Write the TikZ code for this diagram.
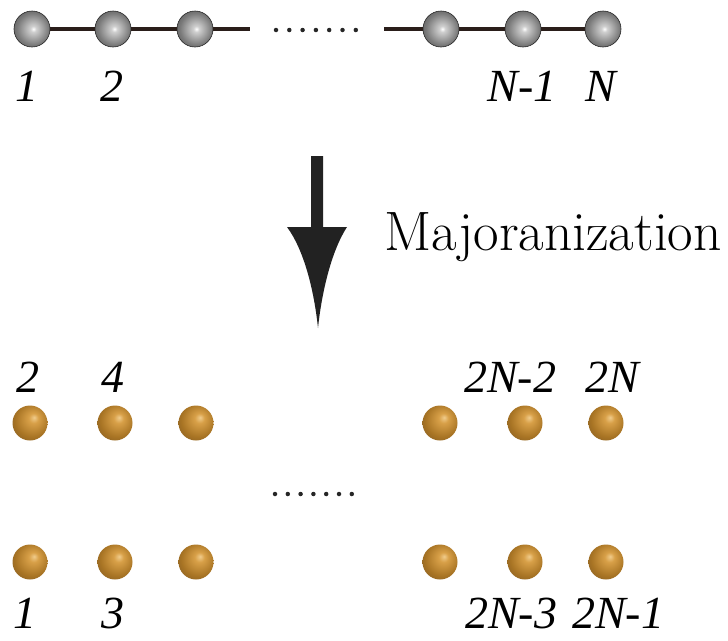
\documentclass[tikz,border=0pt]{standalone}
\usepackage{fontspec}
\newfontfamily\tms{Liberation Serif}
\definecolor{linec}{HTML}{2A1E1A}
\definecolor{arrowc}{HTML}{222222}
\definecolor{gda}{HTML}{F0CC8C}
\definecolor{gdb}{HTML}{D8A048}
\definecolor{gdc}{HTML}{A87424}
\definecolor{gdd}{HTML}{684A22}
\definecolor{gde}{HTML}{5E4420}
\definecolor{gra}{HTML}{FFFFFF}
\definecolor{grb}{HTML}{D0D0D0}
\definecolor{grc}{HTML}{7A7A7A}
\definecolor{grd}{HTML}{3A3A3A}
\definecolor{gre}{HTML}{262626}
\pgfdeclareradialshading{grayball}{\pgfpoint{2bp}{0bp}}{%
  color(0bp)=(gra); color(4bp)=(grb); color(22bp)=(grc); color(42bp)=(grd); color(50bp)=(gre)}
\pgfdeclareradialshading{goldball}{\pgfpoint{6bp}{8bp}}{%
  color(0bp)=(gda); color(7bp)=(gdb); color(24bp)=(gdc); color(46bp)=(gdd); color(50bp)=(gde)}
\begin{document}
\begin{tikzpicture}[x=1pt,y=-1pt,
  gball/.style={circle,minimum size=36pt,inner sep=0pt,shading=grayball,draw=black!85,line width=0.6pt},
  aball/.style={circle,minimum size=35pt,inner sep=0pt,shading=goldball},
  lbl/.style={font=\tms\itshape\fontsize{46}{50}\selectfont,inner sep=0pt},
  bond/.style={draw=linec,line width=3.5pt},
  dotrow/.style={fill=black!85,circle,inner sep=0pt,minimum size=4.5pt}]
\useasboundingbox (0,0) rectangle (728,640);
% top chain
\node[gball] (g1) at (32,29) {};
\node[gball] (g2) at (113,29) {};
\node[gball] (g3) at (195,29) {};
\node[gball] (g4) at (441,29) {};
\node[gball] (g5) at (523,29) {};
\node[gball] (g6) at (603,29) {};
\coordinate (e1) at (250,29);
\coordinate (e2) at (384,29);
\draw[bond] (g1) -- (g2);
\draw[bond] (g2) -- (g3);
\draw[bond] (g3) -- (e1);
\draw[bond] (e2) -- (g4);
\draw[bond] (g4) -- (g5);
\draw[bond] (g5) -- (g6);
\foreach \i in {0,...,6} \node[dotrow] (td\i) at (276+13.3*\i,30) {};
\node[lbl] (t1) at (27,86) {1};
\node[lbl] (t2) at (112,86) {2};
\node[lbl] (t3) at (522,86) {N-1};
\node[lbl] (t4) at (601,86) {N};
% arrow
\fill[arrowc] (311,156) -- (323,156) -- (323,227) -- (347,227)
  .. controls (332,250) and (322,290) .. (318,328)
  .. controls (314,290) and (304,250) .. (287,227) -- (311,227) -- cycle;
\node[font=\fontsize{55.5}{64}\selectfont,anchor=base west,inner sep=0pt] (maj) at (384,250) {Majoranization};
% bottom rows
\node[aball] (b1) at (30,423) {};
\node[aball] (b2) at (115,423) {};
\node[aball] (b3) at (196,423) {};
\node[aball] (b4) at (440,423) {};
\node[aball] (b5) at (525,423) {};
\node[aball] (b6) at (606,423) {};
\node[aball] (c1) at (30,562) {};
\node[aball] (c2) at (115,562) {};
\node[aball] (c3) at (196,562) {};
\node[aball] (c4) at (440,562) {};
\node[aball] (c5) at (525,562) {};
\node[aball] (c6) at (606,562) {};
\foreach \i in {0,...,6} \node[dotrow] (md\i) at (275+12.8*\i,494) {};
\node[lbl] (u1) at (28,377) {2};
\node[lbl] (u2) at (113,377) {4};
\node[lbl] (u3) at (510,377) {2N-2};
\node[lbl] (u4) at (612,377) {2N};
\node[lbl] (l1) at (25,613) {1};
\node[lbl] (l2) at (113,613) {3};
\node[lbl] (l3) at (511,613) {2N-3};
\node[lbl] (l4) at (618,613) {2N-1};
\end{tikzpicture}
\end{document}
